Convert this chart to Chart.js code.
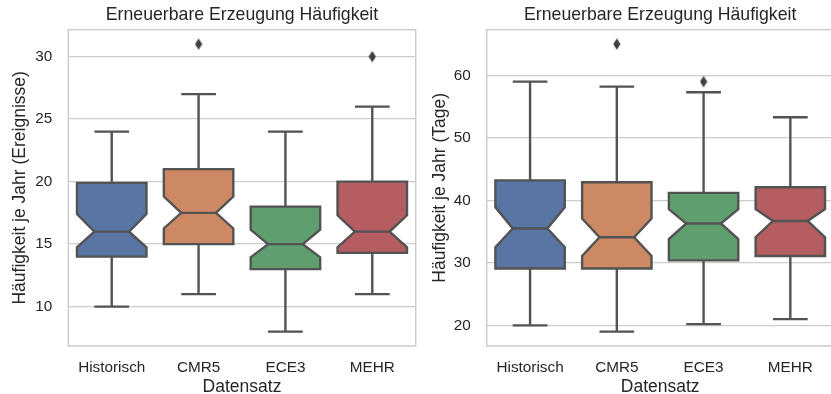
<!DOCTYPE html>
<html>
<head>
<meta charset="utf-8">
<script src="https://cdn.jsdelivr.net/npm/chart.js@4.4.0/dist/chart.umd.min.js"></script>
<style>
  html, body { margin: 0; padding: 0; background: #fff; overflow: hidden; width: 831px; height: 394px; }
  canvas { position: absolute; top: 0; }
  #chartL { left: 0; }
  #chartR { left: 418px; }
</style>
</head>
<body>
<canvas id="chartL" width="418" height="394"></canvas>
<canvas id="chartR" width="418" height="394"></canvas>
<script>
// ===== Daten =====
const categories = ['Historisch', 'CMR5', 'ECE3', 'MEHR'];
const boxColors = ['#5875a4', '#cc8963', '#5f9e6e', '#b55d60'];

// Häufigkeit je Jahr (Ereignisse)
const lowL     = [10, 11, 8, 11];
const q1L      = [14, 15, 13, 14.3];
const notchLoL = [14.75, 16.25, 13.95, 14.75];
const medianL  = [16, 17.5, 15, 16];
const notchHiL = [17.4, 18.8, 16.15, 17.3];
const q3L      = [19.9, 21, 18, 20];
const highL    = [24, 27, 24, 26];
const outlierL = [null, 31, null, 30];
const ticksL   = [10, 15, 20, 25, 30];

// Häufigkeit je Jahr (Tage)
const lowR     = [20, 19, 20.2, 21];
const q1R      = [29.1, 29.1, 30.4, 31.1];
const notchLoR = [32.5, 31.1, 33.8, 34.1];
const medianR  = [35.5, 34.1, 36.3, 36.7];
const notchHiR = [38.9, 37.1, 38.6, 38.6];
const q3R      = [43.2, 42.9, 41.2, 42.1];
const highR    = [59, 58.2, 57.3, 53.3];
const outlierR = [null, 65, 59, null];
const ticksR   = [20, 30, 40, 50, 60];

const lineColor = '#535353';
const textColor = '#262626';
const gridColor = '#cccccc';
const fontFamily = '"Liberation Sans", Arial, sans-serif';

// ===== Raute für Ausreißer =====
const diamond = document.createElement('canvas');
diamond.width = 8; diamond.height = 12;
(function () {
  const c = diamond.getContext('2d');
  c.fillStyle = '#3f3f3f';
  c.beginPath();
  c.moveTo(4, 0.2); c.lineTo(7.6, 6); c.lineTo(4, 11.8); c.lineTo(0.4, 6);
  c.closePath();
  c.fill();
})();

// ===== Boxplot-Plugin (Kerben, Whisker, Rahmen) =====
function notchPlugin(s) {
  return {
    id: 'notchBox',
    beforeDatasetsDraw(chart) {
      const { ctx, chartArea } = chart;
      const y = chart.scales.y;
      const py = v => y.getPixelForValue(v);
      ctx.save();
      // Rahmen
      ctx.strokeStyle = gridColor;
      ctx.lineWidth = 1.5;
      ctx.strokeRect(chartArea.left, chartArea.top, chartArea.right - chartArea.left, chartArea.bottom - chartArea.top);

      ctx.strokeStyle = lineColor;
      ctx.lineWidth = 2.4;
      ctx.lineJoin = 'miter';
      chart.getDatasetMeta(0).data.forEach((bar, i) => {
        const cx = bar.x, w = bar.width;
        const l = cx - w / 2, r = cx + w / 2;
        // Whisker
        ctx.beginPath();
        ctx.moveTo(cx, py(s.q3[i])); ctx.lineTo(cx, py(s.high[i]));
        ctx.moveTo(cx - w / 4, py(s.high[i])); ctx.lineTo(cx + w / 4, py(s.high[i]));
        ctx.moveTo(cx, py(s.q1[i])); ctx.lineTo(cx, py(s.low[i]));
        ctx.moveTo(cx - w / 4, py(s.low[i])); ctx.lineTo(cx + w / 4, py(s.low[i]));
        ctx.stroke();
        // gekerbte Box
        ctx.beginPath();
        ctx.moveTo(l, py(s.q1[i]));
        ctx.lineTo(l, py(s.notchLo[i]));
        ctx.lineTo(l + w / 4, py(s.median[i]));
        ctx.lineTo(l, py(s.notchHi[i]));
        ctx.lineTo(l, py(s.q3[i]));
        ctx.lineTo(r, py(s.q3[i]));
        ctx.lineTo(r, py(s.notchHi[i]));
        ctx.lineTo(r - w / 4, py(s.median[i]));
        ctx.lineTo(r, py(s.notchLo[i]));
        ctx.lineTo(r, py(s.q1[i]));
        ctx.closePath();
        ctx.fillStyle = boxColors[i];
        ctx.fill();
        ctx.stroke();
        // Median
        ctx.beginPath();
        ctx.moveTo(l + w / 4, py(s.median[i]));
        ctx.lineTo(r - w / 4, py(s.median[i]));
        ctx.stroke();
      });
      ctx.restore();
    }
  };
}

function makeChart(id, s, yLabel, yMin, yMax, yTicks, yWidth, yTitlePad) {
  const ctx = document.getElementById(id).getContext('2d');
  return new Chart(ctx, {
    type: 'bar',
    data: {
      labels: categories,
      datasets: [{
        label: 'Box',
        data: s.q1.map((v, i) => [v, s.q3[i]]),
        backgroundColor: 'rgba(0,0,0,0)',
        borderWidth: 0,
        barPercentage: 0.8,
        categoryPercentage: 1
      }, {
        type: 'line',
        label: 'Ausreißer',
        data: s.outlier,
        showLine: false,
        pointStyle: diamond,
        pointRadius: 5
      }]
    },
    plugins: [notchPlugin(s)],
    options: {
      responsive: false,
      animation: false,
      layout: { autoPadding: false, padding: { left: 0, right: 2.3, top: 0, bottom: 0 } },
      plugins: {
        legend: { display: false },
        tooltip: { enabled: false }
      },
      scales: {
        // oberer Rand: trägt den Titel, zentriert über der Zeichenfläche
        xTop: {
          type: 'category',
          position: 'top',
          grid: { display: false, drawTicks: false },
          border: { display: false },
          ticks: { display: false },
          title: {
            display: true, text: 'Erneuerbare Erzeugung Häufigkeit', color: textColor,
            font: { family: fontFamily, size: 17.7, lineHeight: 1.2 },
            padding: { top: 4.4, bottom: 0 }
          },
          afterFit: sc => { sc.height = 29.7; }
        },
        x: {
          grid: { display: false, drawTicks: false },
          border: { display: false },
          ticks: { color: textColor, padding: 13, font: { family: fontFamily, size: 15.3 } },
          title: {
            display: true, text: 'Datensatz', color: textColor,
            font: { family: fontFamily, size: 17.5, lineHeight: 1 },
            padding: { top: 0, bottom: -1.5 }
          },
          afterFit: sc => { sc.height = 48; }
        },
        y: {
          min: yMin,
          max: yMax,
          afterBuildTicks: sc => { sc.ticks = yTicks.map(v => ({ value: v })); },
          afterFit: sc => { sc.width = yWidth; },
          grid: { color: gridColor, lineWidth: 1.3, drawTicks: false },
          border: { display: false },
          ticks: { color: textColor, padding: 16, font: { family: fontFamily, size: 15.3 } },
          title: {
            display: true, text: yLabel, color: textColor,
            font: { family: fontFamily, size: 17.5 },
            padding: { top: yTitlePad, bottom: 0 }
          }
        }
      }
    }
  });
}

makeChart('chartL', {
  low: lowL, q1: q1L, notchLo: notchLoL, median: medianL,
  notchHi: notchHiL, q3: q3L, high: highL, outlier: outlierL
}, 'Häufigkeit je Jahr (Ereignisse)', 6.85, 32.15, ticksL, 68.3, 9.5);

makeChart('chartR', {
  low: lowR, q1: q1R, notchLo: notchLoR, median: medianR,
  notchHi: notchHiR, q3: q3R, high: highR, outlier: outlierR
}, 'Häufigkeit je Jahr (Tage)', 16.7, 67.3, ticksR, 68.7, 11.5);
</script>
</body>
</html>
